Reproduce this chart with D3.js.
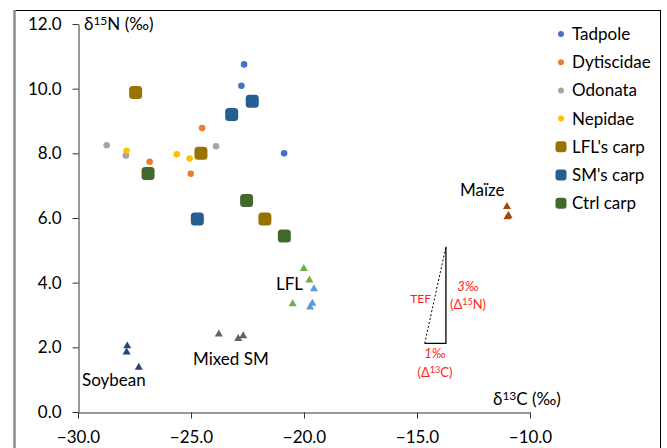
<!DOCTYPE html>
<html lang="en">
<head>
    <meta charset="UTF-8">
    <title>Isotope biplot</title>
    <script src="https://d3js.org/d3.v7.min.js"></script>
    <style>
        body { margin: 0; background: #fff; }
        text { font-family: Lato, "Open Sans", sans-serif; }
    </style>
</head>
<body>

    <script>

        // series: [d13C, d15N]
        var tadpole = [[-22.65, 10.75], [-22.77, 10.09], [-20.88, 8.0]];
        var dytiscidae = [[-24.51, 8.78], [-26.83, 7.74], [-25.01, 7.37]];
        var odonata = [[-28.73, 8.25], [-27.88, 7.93], [-23.89, 8.22]];
        var nepidae = [[-27.85, 8.08], [-25.63, 7.97], [-25.06, 7.84]];
        var lflCarp = [[-27.45, 9.88], [-24.56, 8.0], [-21.73, 5.97]];
        var smCarp = [[-23.2, 9.2], [-22.29, 9.61], [-24.72, 5.97]];
        var ctrlCarp = [[-26.9, 7.38], [-22.54, 6.54], [-20.87, 5.44]];

        // food sources (triangles)
        var lflGreen = [[-20.01, 4.43], [-19.76, 4.08], [-20.5, 3.34]];
        var lflBlue = [[-19.56, 3.81], [-19.63, 3.36], [-19.73, 3.24]];
        var soybean = [[-27.82, 2.04], [-27.85, 1.85], [-27.31, 1.38]];
        var mixedSM = [[-23.77, 2.41], [-22.91, 2.27], [-22.69, 2.35]];
        var maize = [[-11.02, 6.35], [-10.95, 6.07], [-11.0, 6.03]];

        // TEF triangle corners
        var tef = [[-14.66, 2.12], [-13.72, 2.12], [-13.72, 5.11]];

        var xTicks = [-30, -25, -20, -15, -10];
        var yTicks = [0, 2, 4, 6, 8, 10, 12];

        var legendNames = ["Tadpole", "Dytiscidae", "Odonata", "Nepidae", "LFL's carp", "SM's carp", "Ctrl carp"];

        var width = 667;
        var height = 448;

        var x = d3.scaleLinear().domain([-30, -10]).range([78, 530]);
        var y = d3.scaleLinear().domain([0, 12]).range([412, 24]);

        var svg = d3.select("body")
            .append("svg")
            .attr("width", width)
            .attr("height", height);

        // outer frame
        svg.append("line").attr("x1", 14).attr("x2", 660.5).attr("y1", 10.5).attr("y2", 10.5)
            .attr("stroke", "#000").attr("stroke-width", 1);
        svg.append("line").attr("x1", 660.5).attr("x2", 660.5).attr("y1", 10).attr("y2", height)
            .attr("stroke", "#000").attr("stroke-width", 1);
        svg.append("line").attr("x1", 14.5).attr("x2", 14.5).attr("y1", 10).attr("y2", height)
            .attr("stroke", "#8c8c8c").attr("stroke-width", 2.5);

        // axes
        var yAxis = d3.axisLeft(y).tickValues(yTicks).tickFormat(d3.format(".1f"))
            .tickSizeOuter(0).tickPadding(11);
        var xAxis = d3.axisBottom(x).tickValues(xTicks).tickFormat(d3.format(".1f"))
            .tickSizeOuter(0).tickPadding(12);

        var gy = svg.append("g").attr("transform", "translate(78.5,0)").call(yAxis);
        var gx = svg.append("g").attr("transform", "translate(0,412.5)").call(xAxis);

        [gx, gy].forEach(function (g) {
            g.select(".domain").attr("stroke", "#333");
            g.selectAll(".tick line").attr("stroke", "#333");
            g.selectAll(".tick text").attr("font-size", 17).attr("fill", "#000")
                .style("font-family", "Lato, sans-serif");
        });

        svg.append("text").attr("x", 84).attr("y", 30).attr("font-size", 17).attr("fill", "#000")
            .html('δ<tspan font-size="12" dy="-5">15</tspan><tspan dy="5">N (‰)</tspan>');
        svg.append("text").attr("x", 493).attr("y", 405).attr("font-size", 17).attr("fill", "#000")
            .html('δ<tspan font-size="12" dy="-5">13</tspan><tspan dy="5">C (‰)</tspan>');

        // TEF triangle
        var line = d3.line().x(function (d) { return x(d[0]); }).y(function (d) { return y(d[1]); });
        svg.append("path").attr("d", line([tef[0], tef[1], tef[2]]))
            .attr("fill", "none").attr("stroke", "#000").attr("stroke-width", 1.3);
        svg.append("path").attr("d", line([tef[0], tef[2]]))
            .attr("fill", "none").attr("stroke", "#000").attr("stroke-width", 1)
            .attr("stroke-dasharray", "2,2");

        var red = "#ff1f1f";
        svg.append("text").attr("x", 431).attr("y", 303).attr("text-anchor", "end")
            .attr("font-size", 12).attr("fill", red).text("TEF");
        svg.append("text").attr("x", 468).attr("y", 291).attr("text-anchor", "middle")
            .attr("font-size", 13).attr("font-style", "italic").attr("fill", red).text("3‰");
        svg.append("text").attr("x", 468).attr("y", 309).attr("text-anchor", "middle")
            .attr("font-size", 13).attr("fill", red)
            .html('(Δ<tspan font-size="9" dy="-4">15</tspan><tspan dy="4">N)</tspan>');
        svg.append("text").attr("x", 435).attr("y", 358).attr("text-anchor", "middle")
            .attr("font-size", 13).attr("font-style", "italic").attr("fill", red).text("1‰");
        svg.append("text").attr("x", 435).attr("y", 377).attr("text-anchor", "middle")
            .attr("font-size", 13).attr("fill", red)
            .html('(Δ<tspan font-size="9" dy="-4">13</tspan><tspan dy="4">C)</tspan>');

        // triangles (food sources)
        var tri = d3.symbol().type(d3.symbolTriangle).size(28);
        function drawTriangles(data, color) {
            svg.append("g").selectAll("path").data(data).enter()
                .append("path")
                .attr("d", tri)
                .attr("transform", function (d) { return "translate(" + x(d[0]) + "," + y(d[1]) + ")"; })
                .attr("fill", color);
        }
        drawTriangles(lflGreen, "#70ad47");
        drawTriangles(lflBlue, "#5b9bd5");
        drawTriangles(soybean, "#264478");
        drawTriangles(mixedSM, "#636363");
        drawTriangles(maize, "#9e480e");

        var srcLabels = [["LFL", 276, 290], ["Mixed SM", 193, 365], ["Soybean", 82, 386], ["Maïze", 460, 196]];
        svg.append("g").selectAll("text").data(srcLabels).enter()
            .append("text")
            .attr("x", function (d) { return d[1]; })
            .attr("y", function (d) { return d[2]; })
            .attr("font-size", 17).attr("fill", "#000")
            .text(function (d) { return d[0]; });

        // dots and squares
        var seriesList = [
            { name: "Tadpole", data: tadpole, color: "#4472c4", kind: "dot" },
            { name: "Dytiscidae", data: dytiscidae, color: "#ed7d31", kind: "dot" },
            { name: "Odonata", data: odonata, color: "#a5a5a5", kind: "dot" },
            { name: "Nepidae", data: nepidae, color: "#ffc000", kind: "dot" },
            { name: "LFL's carp", data: lflCarp, color: "#997300", kind: "sq" },
            { name: "SM's carp", data: smCarp, color: "#255e91", kind: "sq" },
            { name: "Ctrl carp", data: ctrlCarp, color: "#43682b", kind: "sq" }
        ];

        seriesList.forEach(function (s) {
            var g = svg.append("g");
            if (s.kind === "dot") {
                g.selectAll("circle").data(s.data).enter()
                    .append("circle")
                    .attr("cx", function (d) { return x(d[0]); })
                    .attr("cy", function (d) { return y(d[1]); })
                    .attr("r", 3.3)
                    .attr("fill", s.color);
            } else {
                g.selectAll("rect").data(s.data).enter()
                    .append("rect")
                    .attr("x", function (d) { return x(d[0]) - 6.5; })
                    .attr("y", function (d) { return y(d[1]) - 6.5; })
                    .attr("width", 13).attr("height", 13)
                    .attr("rx", 3.5)
                    .attr("fill", s.color);
            }
        });

        // legend
        var legend = svg.append("g").selectAll("g").data(seriesList).enter()
            .append("g")
            .attr("transform", function (d, i) { return "translate(561," + (34 + i * 28.2) + ")"; });

        legend.each(function (d) {
            var g = d3.select(this);
            if (d.kind === "dot") {
                g.append("circle").attr("r", 3).attr("fill", d.color);
            } else {
                g.append("rect").attr("x", -5.5).attr("y", -5.5).attr("width", 11).attr("height", 11)
                    .attr("rx", 3).attr("fill", d.color);
            }
        });
        legend.append("text")
            .attr("x", 11).attr("y", 6)
            .attr("font-size", 17).attr("fill", "#000")
            .text(function (d, i) { return legendNames[i]; });

    </script>

</body>
</html>
